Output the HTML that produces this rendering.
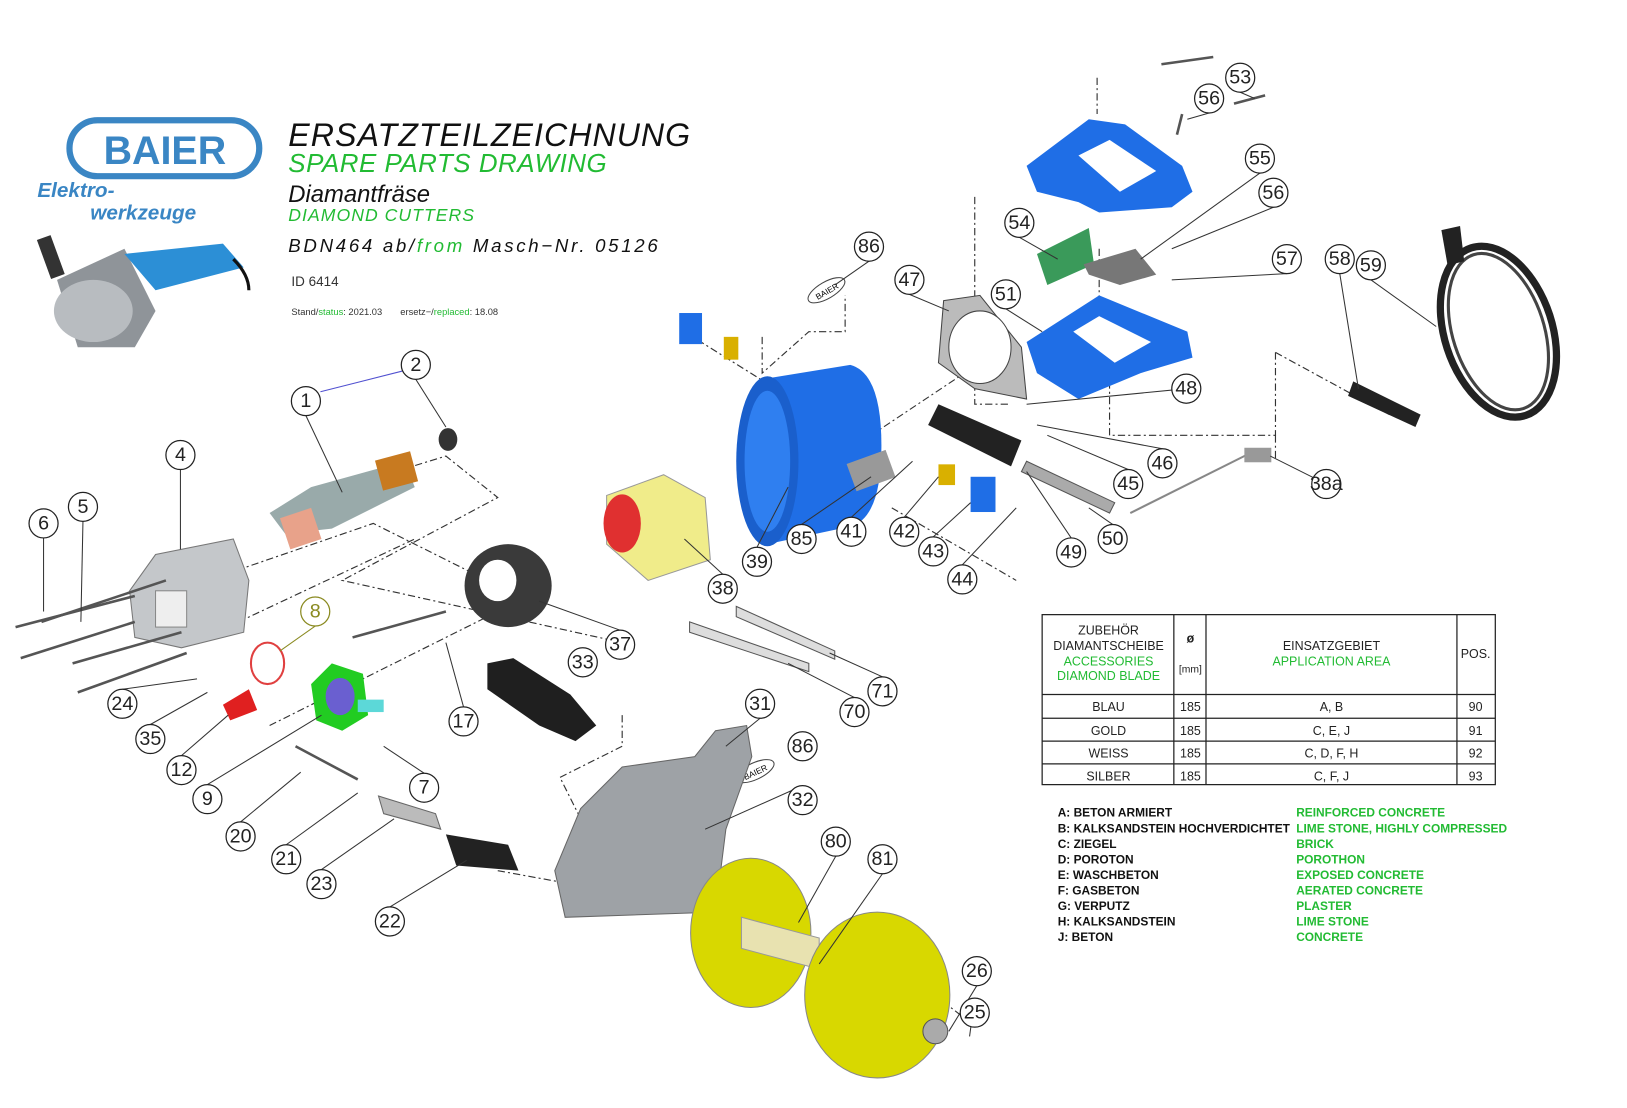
<!DOCTYPE html>
<html><head><meta charset="utf-8"><style>
html,body{margin:0;padding:0;background:#fff;}
svg{display:block;}
.c circle{fill:#fff;stroke:#222;stroke-width:1.2}
.c text{font-family:"Liberation Sans",sans-serif;font-size:19px;fill:#222;text-anchor:middle;dominant-baseline:central}
.d{fill:none;stroke:#333;stroke-width:1.1;stroke-dasharray:7 3 2 3}
.l{fill:none;stroke:#333;stroke-width:1}
.t{font-family:"Liberation Sans",sans-serif}
</style></head><body>
<svg width="1627" height="1108" viewBox="0 0 1569 1069" preserveAspectRatio="none" xmlns="http://www.w3.org/2000/svg">
<rect width="1569" height="1069" fill="#fff"/>
<!-- logo -->
<rect x="67" y="116" width="183" height="54" rx="27" fill="none" stroke="#3a86c4" stroke-width="6"/>
<text x="159" y="158" class="t" font-size="38" font-weight="bold" fill="#3a86c4" text-anchor="middle">BAIER</text>
<text x="36" y="190" class="t" font-size="20" font-weight="bold" font-style="italic" fill="#3a86c4">Elektro-</text>
<text x="87" y="212" class="t" font-size="20" font-weight="bold" font-style="italic" fill="#3a86c4">werkzeuge</text>
<!-- small machine photo -->
<path d="M55 270 L120 240 L150 300 L130 335 L75 335 Z" fill="#8f9499"/>
<ellipse cx="90" cy="300" rx="38" ry="30" fill="#b8bcc0"/>
<path d="M120 245 L215 235 L235 258 L150 280 Z" fill="#2c8fd6"/>
<rect x="42" y="228" width="14" height="40" fill="#333" transform="rotate(-20 49 248)"/>
<path d="M225 250 Q240 265 240 280" stroke="#111" stroke-width="3" fill="none"/>
<!-- titles -->
<g class="t" font-style="italic">
<text x="278" y="141" font-size="31" fill="#111" letter-spacing="1">ERSATZTEILZEICHNUNG</text>
<text x="278" y="166" font-size="25" fill="#22bb33" letter-spacing="0.5">SPARE  PARTS  DRAWING</text>
<text x="278" y="195" font-size="23" fill="#111">Diamantfräse</text>
<text x="278" y="213" font-size="17" fill="#22bb33" letter-spacing="1">DIAMOND  CUTTERS</text>
<text x="278" y="243" font-size="18" fill="#111" letter-spacing="2.6">BDN464  ab/<tspan fill="#22bb33">from</tspan>  Masch−Nr.  05126</text>
</g>
<text x="281" y="276" class="t" font-size="13" fill="#333">ID 6414</text>
<text x="281" y="304" class="t" font-size="9" fill="#333">Stand/<tspan fill="#22bb33">status</tspan>: 2021.03 &#160;&#160;&#160;&#160;&#160;&#160;ersetz−/<tspan fill="#22bb33">replaced</tspan>: 18.08</text>

<!-- dashed leaders -->
<polyline class="d" points="1058,75 1058,110"/>
<polyline class="d" points="940,190 940,390 975,390"/>
<polyline class="d" points="1060,240 1060,300"/>
<polyline class="d" points="1230,340 1230,420 1070,420 1070,360"/>
<polyline class="d" points="1230,340 1340,400"/>
<polyline class="d" points="1230,420 1230,445"/>
<polyline class="d" points="735,325 735,360 780,320 815,320 815,285"/>
<polyline class="d" points="660,320 740,370"/>
<polyline class="d" points="300,480 430,440 480,480 330,560 600,620"/>
<polyline class="d" points="200,560 360,505 460,555"/>
<polyline class="d" points="230,600 400,520"/>
<polyline class="d" points="260,700 480,590"/>
<polyline class="d" points="600,690 600,720 540,750 560,790 640,800"/>
<polyline class="d" points="480,840 700,880"/>
<polyline class="d" points="840,420 960,340"/>
<polyline class="d" points="860,490 980,560"/>
<polyline class="d" points="850,920 940,990"/>

<!-- blue handles -->
<path d="M990 160 L1050 115 L1085 120 L1140 160 L1150 185 L1130 200 L1060 205 L1040 195 L1000 185 Z" fill="#1f6ee6"/>
<path d="M1040 150 L1070 135 L1115 165 L1080 185 Z" fill="#fff"/>
<path d="M990 330 L1060 285 L1145 320 L1150 345 L1100 360 L1040 385 L1000 360 Z" fill="#1f6ee6"/>
<path d="M1035 320 L1060 305 L1110 330 L1075 350 Z" fill="#fff"/>
<!-- pcb/switch -->
<path d="M1000 245 L1050 220 L1055 255 L1010 275 Z" fill="#3a9a5a"/>
<path d="M1045 255 L1095 240 L1115 265 L1080 275 L1050 265 Z" fill="#777"/>
<!-- gasket 47 -->
<path d="M910 290 L945 285 L985 335 L990 385 L940 375 L905 350 Z" fill="#bbb" stroke="#444"/>
<ellipse cx="945" cy="335" rx="30" ry="35" fill="#fff" stroke="#444"/>
<!-- motor housing 39 -->
<path d="M740 365 L820 352 Q850 360 850 430 Q850 500 820 508 L740 525 Z" fill="#1f6ee6"/>
<ellipse cx="740" cy="445" rx="30" ry="82" fill="#1a5fcc"/>
<ellipse cx="740" cy="445" rx="22" ry="68" fill="#2f7ff0"/>
<!-- small blue blocks -->
<rect x="655" y="302" width="22" height="30" fill="#1f6ee6"/>
<rect x="698" y="325" width="14" height="22" fill="#d9b000"/>
<rect x="936" y="460" width="24" height="34" fill="#1f6ee6"/>
<rect x="905" y="448" width="16" height="20" fill="#d9b000"/>
<rect x="820" y="440" width="40" height="28" fill="#999" transform="rotate(-20 840 454)"/>
<!-- rods 49 50 -->
<path d="M905 390 L985 425 L975 450 L895 410 Z" fill="#222"/>
<path d="M990 445 L1075 485 L1070 495 L985 455 Z" fill="#aaa" stroke="#555"/>
<line x1="1090" y1="495" x2="1210" y2="435" stroke="#888" stroke-width="2"/>
<rect x="1200" y="432" width="26" height="14" fill="#999"/>
<!-- handle 58 -->
<path d="M1305 368 L1370 400 L1365 412 L1300 382 Z" fill="#222"/>
<!-- cable -->
<ellipse cx="1445" cy="320" rx="52" ry="85" fill="none" stroke="#222" stroke-width="7" transform="rotate(-18 1445 320)"/>
<ellipse cx="1445" cy="320" rx="44" ry="78" fill="none" stroke="#444" stroke-width="3" transform="rotate(-18 1445 320)"/>
<path d="M1390 222 L1408 218 L1412 252 L1396 256 Z" fill="#222"/>
<!-- badges -->
<ellipse cx="797" cy="280" rx="20" ry="8" fill="#fff" stroke="#444" transform="rotate(-30 797 280)"/>
<text x="797" y="284" class="t" font-size="8" text-anchor="middle" transform="rotate(-30 797 280)">BAIER</text>
<ellipse cx="728" cy="744" rx="20" ry="8" fill="#fff" stroke="#444" transform="rotate(-25 728 744)"/>
<text x="728" y="748" class="t" font-size="8" text-anchor="middle" transform="rotate(-25 728 744)">BAIER</text>

<!-- armature -->
<path d="M260 495 L300 470 L390 445 L400 470 L320 510 L275 515 Z" fill="#9aa"/>
<rect x="365" y="440" width="35" height="30" fill="#c87a20" transform="rotate(-15 380 455)"/>
<ellipse cx="432" cy="424" rx="9" ry="11" fill="#333"/>
<path d="M270 500 L300 490 L310 520 L280 530 Z" fill="#e8a28a"/>
<!-- gear housing 4 -->
<path d="M125 570 L150 535 L225 520 L240 560 L235 610 L175 625 L130 615 Z" fill="#c4c7ca" stroke="#777"/>
<rect x="150" y="570" width="30" height="35" fill="#eee" stroke="#888"/>
<!-- screws -->
<g stroke="#555" stroke-width="2.5">
<line x1="15" y1="605" x2="130" y2="575"/><line x1="20" y1="635" x2="130" y2="600"/>
<line x1="40" y1="600" x2="160" y2="560"/><line x1="70" y1="640" x2="175" y2="610"/>
<line x1="75" y1="668" x2="180" y2="630"/><line x1="285" y1="720" x2="345" y2="752"/>
<line x1="340" y1="615" x2="430" y2="590"/><line x1="1140" y1="110" x2="1135" y2="130"/>
<line x1="1120" y1="62" x2="1170" y2="55"/><line x1="1190" y1="100" x2="1220" y2="92"/>
</g>
<!-- ring 8 / 12 -->
<ellipse cx="258" cy="640" rx="16" ry="20" fill="none" stroke="#e04040" stroke-width="2"/>
<path d="M215 680 L240 665 L248 685 L222 695 Z" fill="#e02020"/>
<!-- 9 green part -->
<path d="M300 660 L320 640 L350 650 L355 690 L330 705 L305 695 Z" fill="#22cc22"/>
<ellipse cx="328" cy="672" rx="14" ry="18" fill="#6a5fd0"/>
<rect x="345" y="675" width="25" height="12" fill="#5cd8d8"/>
<!-- stator 38 -->
<path d="M585 478 L640 458 L680 480 L685 540 L625 560 L585 525 Z" fill="#f0ec8a" stroke="#999"/>
<ellipse cx="600" cy="505" rx="18" ry="28" fill="#e03030"/>
<!-- ring 37 -->
<ellipse cx="490" cy="565" rx="42" ry="40" fill="#3a3a3a"/>
<ellipse cx="480" cy="560" rx="18" ry="20" fill="#fff"/>
<!-- handle 33 -->
<path d="M470 640 L495 635 L550 670 L575 700 L555 715 L520 700 L470 665 Z" fill="#1f1f1f"/>
<!-- spanners -->
<path d="M665 600 L780 640 L780 648 L665 610 Z" fill="#ddd" stroke="#555"/>
<path d="M710 585 L805 628 L805 636 L710 595 Z" fill="#ddd" stroke="#555"/>
<!-- guard 31 -->
<path d="M560 780 L600 740 L670 730 L690 705 L720 700 L725 730 L700 800 L690 880 L545 885 L535 840 Z" fill="#9ea2a6" stroke="#666"/>
<!-- spacers -->
<path d="M430 805 L490 815 L500 840 L440 835 Z" fill="#222"/>
<path d="M365 768 L420 785 L425 800 L370 785 Z" fill="#bbb" stroke="#666"/>
<!-- blades -->
<ellipse cx="724" cy="900" rx="58" ry="72" fill="#d8d800" stroke="#888"/>
<path d="M715 885 L790 905 L790 935 L715 915 Z" fill="#e8e2b0" stroke="#999"/>
<ellipse cx="846" cy="960" rx="70" ry="80" fill="#d8d800" stroke="#888"/>
<ellipse cx="902" cy="995" rx="12" ry="12" fill="#aaa" stroke="#555"/>

<!-- leader lines to callouts -->
<g class="l">
<line x1="295" y1="401" x2="330" y2="475"/><line x1="401" y1="366" x2="430" y2="412"/>
<line x1="309" y1="378" x2="388" y2="358" stroke="#5050d0"/>
<line x1="174" y1="453" x2="174" y2="530"/><line x1="80" y1="503" x2="78" y2="600"/>
<line x1="42" y1="519" x2="42" y2="590"/><line x1="730" y1="528" x2="760" y2="470"/>
<line x1="773" y1="506" x2="840" y2="460"/><line x1="821" y1="499" x2="880" y2="445"/>
<line x1="872" y1="499" x2="905" y2="460"/><line x1="900" y1="518" x2="936" y2="485"/>
<line x1="928" y1="545" x2="980" y2="490"/><line x1="697" y1="554" x2="660" y2="520"/>
<line x1="598" y1="608" x2="520" y2="580"/><line x1="447" y1="682" x2="430" y2="620"/>
<line x1="304" y1="604" x2="270" y2="628" stroke="#8a8a20"/>
<line x1="118" y1="665" x2="190" y2="655"/><line x1="145" y1="699" x2="200" y2="668"/>
<line x1="175" y1="729" x2="220" y2="690"/><line x1="200" y1="757" x2="310" y2="690"/>
<line x1="232" y1="793" x2="290" y2="745"/><line x1="276" y1="815" x2="345" y2="765"/>
<line x1="310" y1="839" x2="380" y2="790"/><line x1="376" y1="875" x2="450" y2="830"/>
<line x1="409" y1="746" x2="370" y2="720"/><line x1="824" y1="673" x2="760" y2="640"/>
<line x1="851" y1="653" x2="800" y2="630"/><line x1="733" y1="693" x2="700" y2="720"/>
<line x1="774" y1="758" x2="680" y2="800"/><line x1="806" y1="826" x2="770" y2="890"/>
<line x1="851" y1="843" x2="790" y2="930"/><line x1="942" y1="951" x2="915" y2="995"/>
<line x1="940" y1="963" x2="935" y2="1000"/><line x1="838" y1="252" x2="805" y2="275"/>
<line x1="877" y1="284" x2="915" y2="300"/><line x1="970" y1="298" x2="1005" y2="320"/>
<line x1="1144" y1="375" x2="990" y2="390"/><line x1="1121" y1="433" x2="1000" y2="410"/>
<line x1="1088" y1="453" x2="1010" y2="420"/><line x1="1279" y1="467" x2="1225" y2="440"/>
<line x1="1073" y1="506" x2="1050" y2="490"/><line x1="1033" y1="519" x2="990" y2="455"/>
<line x1="983" y1="229" x2="1020" y2="250"/><line x1="1215" y1="167" x2="1100" y2="250"/>
<line x1="1228" y1="200" x2="1130" y2="240"/><line x1="1241" y1="264" x2="1130" y2="270"/>
<line x1="1292" y1="264" x2="1310" y2="375"/><line x1="1322" y1="270" x2="1385" y2="315"/>
<line x1="1196" y1="89" x2="1210" y2="95"/><line x1="1166" y1="109" x2="1145" y2="115"/>
</g>

<!-- callouts -->
<g class="c">
<circle cx="1196" cy="75" r="14"/><text x="1196" y="75">53</text>
<circle cx="1166" cy="95" r="14"/><text x="1166" y="95">56</text>
<circle cx="1215" cy="153" r="14"/><text x="1215" y="153">55</text>
<circle cx="1228" cy="186" r="14"/><text x="1228" y="186">56</text>
<circle cx="983" cy="215" r="14"/><text x="983" y="215">54</text>
<circle cx="1241" cy="250" r="14"/><text x="1241" y="250">57</text>
<circle cx="1292" cy="250" r="14"/><text x="1292" y="250">58</text>
<circle cx="1322" cy="256" r="14"/><text x="1322" y="256">59</text>
<circle cx="838" cy="238" r="14"/><text x="838" y="238">86</text>
<circle cx="877" cy="270" r="14"/><text x="877" y="270">47</text>
<circle cx="970" cy="284" r="14"/><text x="970" y="284">51</text>
<circle cx="1144" cy="375" r="14"/><text x="1144" y="375">48</text>
<circle cx="1121" cy="447" r="14"/><text x="1121" y="447">46</text>
<circle cx="1088" cy="467" r="14"/><text x="1088" y="467">45</text>
<circle cx="1279" cy="467" r="14"/><text x="1279" y="467">38a</text>
<circle cx="1073" cy="520" r="14"/><text x="1073" y="520">50</text>
<circle cx="1033" cy="533" r="14"/><text x="1033" y="533">49</text>
<circle cx="401" cy="352" r="14"/><text x="401" y="352">2</text>
<circle cx="295" cy="387" r="14"/><text x="295" y="387">1</text>
<circle cx="174" cy="439" r="14"/><text x="174" y="439">4</text>
<circle cx="80" cy="489" r="14"/><text x="80" y="489">5</text>
<circle cx="42" cy="505" r="14"/><text x="42" y="505">6</text>
<circle cx="730" cy="542" r="14"/><text x="730" y="542">39</text>
<circle cx="773" cy="520" r="14"/><text x="773" y="520">85</text>
<circle cx="821" cy="513" r="14"/><text x="821" y="513">41</text>
<circle cx="872" cy="513" r="14"/><text x="872" y="513">42</text>
<circle cx="900" cy="532" r="14"/><text x="900" y="532">43</text>
<circle cx="928" cy="559" r="14"/><text x="928" y="559">44</text>
<circle cx="697" cy="568" r="14"/><text x="697" y="568">38</text>
<circle cx="598" cy="622" r="14"/><text x="598" y="622">37</text>
<circle cx="562" cy="639" r="14"/><text x="562" y="639">33</text>
<circle cx="447" cy="696" r="14"/><text x="447" y="696">17</text>
<circle cx="304" cy="590" r="14" style="stroke:#8a8a20"/><text x="304" y="590" style="fill:#8a8a20">8</text>
<circle cx="118" cy="679" r="14"/><text x="118" y="679">24</text>
<circle cx="145" cy="713" r="14"/><text x="145" y="713">35</text>
<circle cx="175" cy="743" r="14"/><text x="175" y="743">12</text>
<circle cx="200" cy="771" r="14"/><text x="200" y="771">9</text>
<circle cx="232" cy="807" r="14"/><text x="232" y="807">20</text>
<circle cx="276" cy="829" r="14"/><text x="276" y="829">21</text>
<circle cx="310" cy="853" r="14"/><text x="310" y="853">23</text>
<circle cx="376" cy="889" r="14"/><text x="376" y="889">22</text>
<circle cx="409" cy="760" r="14"/><text x="409" y="760">7</text>
<circle cx="824" cy="687" r="14"/><text x="824" y="687">70</text>
<circle cx="851" cy="667" r="14"/><text x="851" y="667">71</text>
<circle cx="733" cy="679" r="14"/><text x="733" y="679">31</text>
<circle cx="774" cy="720" r="14"/><text x="774" y="720">86</text>
<circle cx="774" cy="772" r="14"/><text x="774" y="772">32</text>
<circle cx="806" cy="812" r="14"/><text x="806" y="812">80</text>
<circle cx="851" cy="829" r="14"/><text x="851" y="829">81</text>
<circle cx="942" cy="937" r="14"/><text x="942" y="937">26</text>
<circle cx="940" cy="977" r="14"/><text x="940" y="977">25</text>
</g>

<!-- table -->
<g stroke="#222" stroke-width="1.2" fill="none">
<rect x="1005" y="593" width="437" height="164"/>
<line x1="1132" y1="593" x2="1132" y2="757"/><line x1="1163" y1="593" x2="1163" y2="757"/><line x1="1405" y1="593" x2="1405" y2="757"/>
<line x1="1005" y1="670" x2="1442" y2="670"/><line x1="1005" y1="693" x2="1442" y2="693"/>
<line x1="1005" y1="715" x2="1442" y2="715"/><line x1="1005" y1="737" x2="1442" y2="737"/>
</g>
<g class="t" font-size="12" text-anchor="middle" fill="#222">
<text x="1069" y="612">ZUBEHÖR</text><text x="1069" y="627">DIAMANTSCHEIBE</text>
<text x="1069" y="642" fill="#22bb33">ACCESSORIES</text><text x="1069" y="656" fill="#22bb33">DIAMOND BLADE</text>
<text x="1148" y="620" font-weight="bold">ø</text><text x="1148" y="649" font-size="10">[mm]</text>
<text x="1284" y="627">EINSATZGEBIET</text><text x="1284" y="642" fill="#22bb33">APPLICATION AREA</text>
<text x="1423" y="635">POS.</text>
<text x="1069" y="686">BLAU</text><text x="1148" y="686">185</text><text x="1284" y="686">A, B</text><text x="1423" y="686">90</text>
<text x="1069" y="709">GOLD</text><text x="1148" y="709">185</text><text x="1284" y="709">C, E, J</text><text x="1423" y="709">91</text>
<text x="1069" y="731">WEISS</text><text x="1148" y="731">185</text><text x="1284" y="731">C, D, F, H</text><text x="1423" y="731">92</text>
<text x="1069" y="753">SILBER</text><text x="1148" y="753">185</text><text x="1284" y="753">C, F, J</text><text x="1423" y="753">93</text>
</g>
<g class="t" font-size="11.5" font-weight="bold" fill="#111">
<text x="1020" y="788">A:  BETON ARMIERT</text>
<text x="1020" y="803">B:  KALKSANDSTEIN HOCHVERDICHTET</text>
<text x="1020" y="818">C:  ZIEGEL</text>
<text x="1020" y="833">D:  POROTON</text>
<text x="1020" y="848">E:  WASCHBETON</text>
<text x="1020" y="863">F:  GASBETON</text>
<text x="1020" y="878">G:  VERPUTZ</text>
<text x="1020" y="893">H:  KALKSANDSTEIN</text>
<text x="1020" y="908">J:  BETON</text>
</g>
<g class="t" font-size="11.5" font-weight="bold" fill="#22bb33">
<text x="1250" y="788">REINFORCED CONCRETE</text>
<text x="1250" y="803">LIME STONE,  HIGHLY COMPRESSED</text>
<text x="1250" y="818">BRICK</text>
<text x="1250" y="833">POROTHON</text>
<text x="1250" y="848">EXPOSED CONCRETE</text>
<text x="1250" y="863">AERATED CONCRETE</text>
<text x="1250" y="878">PLASTER</text>
<text x="1250" y="893">LIME STONE</text>
<text x="1250" y="908">CONCRETE</text>
</g>
</svg>
</body></html>
